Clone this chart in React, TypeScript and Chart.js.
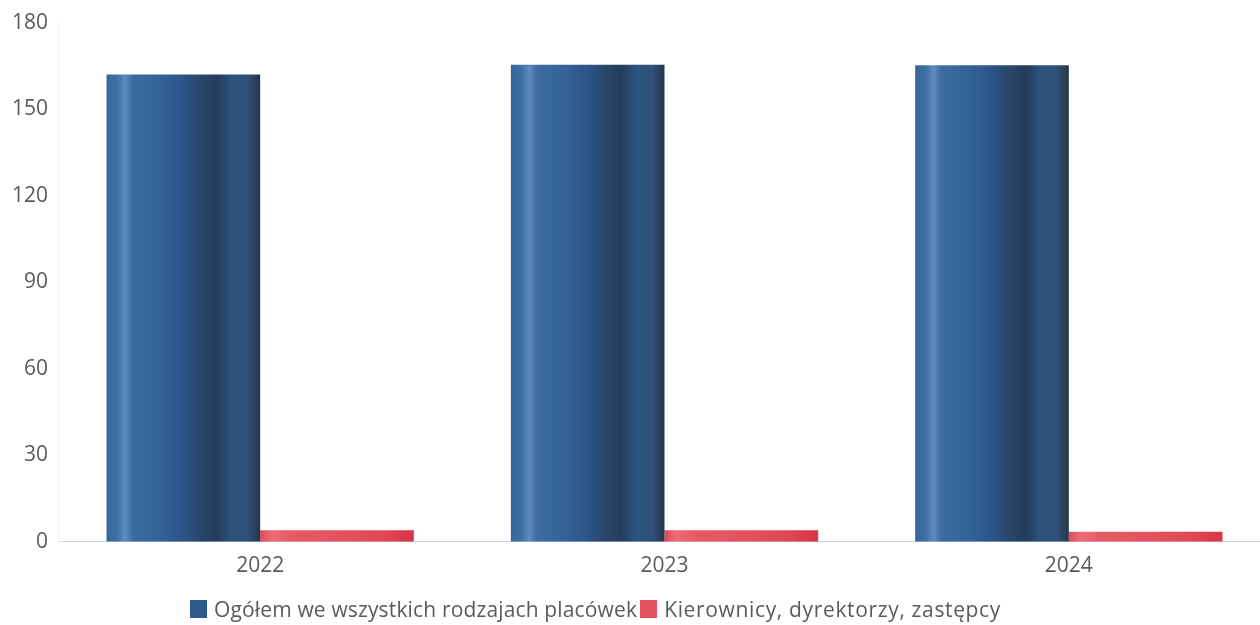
import React, { useEffect, useRef } from "react";
import { Chart, registerables } from "chart.js";

Chart.register(...registerables);

const categories = ["2022", "2023", "2024"];
const totalValues = [162, 165.4, 165.2];
const managerValues = [4, 4, 3.5];
const seriesNames = ["Ogółem we wszystkich rodzajach placówek", "Kierownicy, dyrektorzy, zastępcy"];
const yTicks = [0, 30, 60, 90, 120, 150, 180];

const FONT = "'Open Sans', 'DejaVu Sans', sans-serif";
const TEXT = "#5a5a5a";
const CAT_PCT = 0.76;

const blueStops: [number, string][] = [
  [0, "#36659a"],
  [0.07, "#3f70a5"],
  [0.12, "#5f8bbd"],
  [0.17, "#3d6ca1"],
  [0.35, "#33629a"],
  [0.5, "#2d5485"],
  [0.62, "#28456a"],
  [0.72, "#243d5c"],
  [0.82, "#2c5480"],
  [0.92, "#2f5078"],
  [0.97, "#2b405a"],
  [1, "#24344a"],
];
const redStops: [number, string][] = [
  [0, "#e04a57"],
  [0.08, "#ea6d76"],
  [0.2, "#e65a65"],
  [0.5, "#e45260"],
  [0.8, "#e04856"],
  [1, "#d83347"],
];
const stopSets = [blueStops, redStops];

const gradientPlugin = {
  id: "barGradients",
  beforeDatasetsDraw(chart: any) {
    const ctx = chart.ctx;
    chart.data.datasets.forEach((_: any, di: number) => {
      const meta = chart.getDatasetMeta(di);
      meta.data.forEach((el: any) => {
        const w = el.width;
        const x0 = el.x - w / 2;
        if (!isFinite(x0) || !isFinite(w)) return;
        const g = ctx.createLinearGradient(x0, 0, x0 + w, 0);
        stopSets[di].forEach(([o, c]) => g.addColorStop(o, c));
        el.options = Object.assign({}, el.options, { backgroundColor: g });
      });
    });
  },
};

export default function App() {
  const ref = useRef<HTMLCanvasElement | null>(null);
  useEffect(() => {
    if (!ref.current) return;
    Chart.defaults.font.family = FONT;
    const chart = new Chart(ref.current, {
      type: "bar",
      data: {
        labels: categories,
        datasets: [
          { label: seriesNames[0], data: totalValues, backgroundColor: "#2f5a8c", borderWidth: 0 },
          { label: seriesNames[1], data: managerValues, backgroundColor: "#e2505c", borderWidth: 0 },
        ],
      },
      options: {
        animation: false,
        responsive: true,
        maintainAspectRatio: false,
        layout: { padding: { top: 13, right: 4, bottom: 34, left: 0 } },
        plugins: { legend: { display: false }, tooltip: { enabled: false } },
        datasets: { bar: { categoryPercentage: CAT_PCT, barPercentage: 1 } },
        scales: {
          x: {
            grid: { display: false, drawTicks: false },
            border: { display: true, color: "#c9d3e6", width: 1 },
            ticks: { color: TEXT, font: { size: 21, family: FONT }, padding: 12 },
          },
          y: {
            min: 0,
            max: 180,
            afterBuildTicks: (s: any) => {
              s.ticks = yTicks.map((v) => ({ value: v }));
            },
            afterFit: (s: any) => {
              s.width = 58;
            },
            grid: { display: false, drawTicks: false },
            border: { display: true, color: "#f1f1f1", width: 1 },
            ticks: { color: TEXT, font: { size: 21, family: FONT }, padding: 10 },
          },
        },
      },
      plugins: [gradientPlugin],
    });
    return () => chart.destroy();
  }, []);

  const legendItem = (color: string, text: string, spacing: number) => (
    <div style={{ display: "flex", alignItems: "center" }}>
      <span style={{ display: "inline-block", width: 17, height: 18, background: color, marginRight: 7 }} />
      <span style={{ letterSpacing: spacing }}>{text}</span>
    </div>
  );

  return (
    <div style={{ position: "absolute", left: 0, top: 0, width: 1260, height: 625, overflow: "hidden", background: "#fff" }}>
      <div style={{ position: "absolute", left: 0, top: 0, width: 1275, height: 625 }}>
        <canvas ref={ref} />
      </div>
      <div
        style={{
          position: "absolute",
          left: 190,
          top: 595,
          display: "flex",
          gap: 3,
          fontFamily: FONT,
          fontSize: 21,
          color: TEXT,
          whiteSpace: "nowrap",
          lineHeight: "28px",
        }}
      >
        {legendItem("#2f5a8c", seriesNames[0], 0.15)}
        {legendItem("#e2505c", seriesNames[1], 0.65)}
      </div>
    </div>
  );
}
